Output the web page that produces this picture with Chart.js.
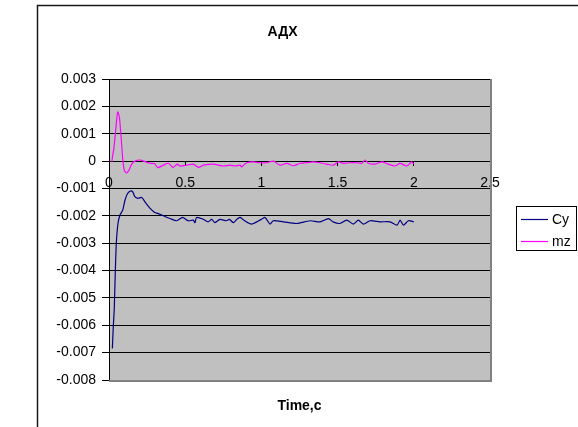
<!DOCTYPE html>
<html>
<head>
<meta charset="utf-8">
<script src="https://cdn.jsdelivr.net/npm/chart.js@4/dist/chart.umd.min.js"></script>
<style>
  html, body { margin: 0; padding: 0; background: #fff; }
  #wrap { width: 578px; height: 427px; }
</style>
</head>
<body>
<div id="wrap"><canvas id="c" width="578" height="427"></canvas></div>
<script>
// Aerodynamic coefficients vs time
const chartTitle = 'АДХ';
const cyTime = [0.022, 0.028, 0.035, 0.041, 0.048, 0.059, 0.072, 0.09, 0.105, 0.12,
  0.138, 0.155, 0.17, 0.19, 0.215, 0.236, 0.27, 0.30, 0.32, 0.356,
  0.40, 0.444, 0.483, 0.52, 0.553, 0.564, 0.575, 0.62, 0.65, 0.674,
  0.695, 0.728, 0.77, 0.79, 0.816, 0.838, 0.86, 0.89, 0.936, 1.0,
  1.024, 1.056, 1.078, 1.144, 1.23, 1.32, 1.385, 1.44, 1.47, 1.516,
  1.56, 1.603, 1.636, 1.669, 1.713, 1.778, 1.844, 1.89, 1.91, 1.932,
  1.965, 2.0];
const cyValues = [-0.00685, -0.00606, -0.00533, -0.0041, -0.0030, -0.00228, -0.00197, -0.00179, -0.00143, -0.0012,
  -0.0011, -0.00112, -0.0013, -0.00136, -0.00133, -0.00149, -0.00173, -0.00188, -0.00191, -0.0020,
  -0.0021, -0.00218, -0.00206, -0.00218, -0.00216, -0.00225, -0.00206, -0.00213, -0.00222, -0.00213,
  -0.00225, -0.00213, -0.00218, -0.00213, -0.00225, -0.00213, -0.00206, -0.00218, -0.0023, -0.00213,
  -0.00206, -0.0023, -0.00218, -0.00222, -0.00228, -0.00218, -0.00222, -0.0021, -0.00222, -0.00228,
  -0.00216, -0.0023, -0.00216, -0.0023, -0.00218, -0.00222, -0.00222, -0.00234, -0.00216, -0.00234,
  -0.00218, -0.00222];

const mzTime = [0.018, 0.033, 0.046, 0.057, 0.068, 0.079, 0.09, 0.1, 0.116, 0.131,
  0.149, 0.17, 0.203, 0.236, 0.27, 0.30, 0.32, 0.356, 0.39, 0.42,
  0.448, 0.465, 0.51, 0.553, 0.586, 0.62, 0.684, 0.75, 0.794, 0.827,
  0.86, 0.87, 0.903, 0.947, 0.99, 1.034, 1.08, 1.122, 1.166, 1.21,
  1.254, 1.297, 1.34, 1.385, 1.428, 1.472, 1.505, 1.538, 1.581, 1.625,
  1.658, 1.68, 1.702, 1.745, 1.79, 1.832, 1.876, 1.91, 1.953, 1.986,
  2.0];
const mzValues = [-0.00003, 0.00052, 0.00125, 0.0018, 0.00162, 0.00089, 0.0001, -0.00033, -0.00043, -0.00033,
  -0.00011, 0, 0.00004, -0.00002, -0.00008, -0.0001, -0.00024, -0.00015, -0.00008, -0.00023,
  -0.00011, -0.00018, -0.00015, -0.00011, -0.00023, -0.00015, -0.00011, -0.00018, -0.00015, -0.00018,
  -0.00015, -0.00021, -0.00006, -0.00003, -0.00006, -0.00006, 0, -0.00015, -0.00008, -0.00017,
  -0.00008, -0.00006, -0.00003, -0.00006, -0.00011, -0.00015, -0.00003, -0.00008, -0.00006, -0.00006,
  -0.00008, 0.00004, -0.00008, -0.00011, -0.00003, -0.00011, -0.00018, -0.00008, -0.00018, -0.00003,
  -0.00011];

const xTicks = [0, 0.5, 1, 1.5, 2, 2.5];
const yTicks = [0.003, 0.002, 0.001, 0, -0.001, -0.002, -0.003, -0.004, -0.005, -0.006, -0.007, -0.008];

const FONT = '"Liberation Sans", Arial, sans-serif';

const toPoints = (xs, ys) => xs.map((t, i) => ({ x: t, y: ys[i] }));

// Page background, outer chart frame, title, grey plot area and legend
const framePlugin = {
  id: 'frame',
  beforeDraw(chart) {
    const { ctx, chartArea: a } = chart;
    ctx.save();
    ctx.fillStyle = '#ffffff';
    ctx.fillRect(0, 0, chart.width, chart.height);
    ctx.strokeStyle = '#1a1a1a';
    ctx.lineWidth = 1.5;
    ctx.strokeRect(37.5, 5.5, 700, 600);
    ctx.fillStyle = '#c0c0c0';
    ctx.fillRect(a.left, a.top, a.right - a.left, a.bottom - a.top);

    ctx.fillStyle = '#000000';
    ctx.font = 'bold 14px ' + FONT;
    ctx.textAlign = 'center';
    ctx.textBaseline = 'middle';
    ctx.fillText(chartTitle, 282.5, 32);
    ctx.restore();
  },
  afterDraw(chart) {
    const { ctx, chartArea: a } = chart;
    ctx.save();
    // plot area edge on the right and bottom
    ctx.strokeStyle = '#808080';
    ctx.lineWidth = 2;
    ctx.beginPath();
    ctx.moveTo(a.right + 1, a.top);
    ctx.lineTo(a.right + 1, a.bottom + 1);
    ctx.lineTo(a.left, a.bottom + 1);
    ctx.stroke();

    // legend box
    const bx = 516.5, by = 206.5, bw = 60, bh = 44;
    ctx.fillStyle = '#ffffff';
    ctx.fillRect(bx, by, bw, bh);
    ctx.strokeStyle = '#000000';
    ctx.lineWidth = 1;
    ctx.strokeRect(bx, by, bw, bh);
    ctx.font = '14px ' + FONT;
    ctx.textBaseline = 'middle';
    ctx.textAlign = 'left';
    chart.data.datasets.forEach((ds, i) => {
      const y = 219.5 + i * 22;
      ctx.strokeStyle = ds.borderColor;
      ctx.lineWidth = 1.2;
      ctx.beginPath();
      ctx.moveTo(521, y);
      ctx.lineTo(548, y);
      ctx.stroke();
      ctx.fillStyle = '#000000';
      ctx.fillText(ds.label, 552, y + 0.5);
    });
    ctx.restore();
  }
};

new Chart(document.getElementById('c'), {
  type: 'line',
  data: {
    datasets: [
      {
        label: 'Cy',
        data: toPoints(cyTime, cyValues),
        borderColor: '#000080',
        borderWidth: 1.2,
        pointRadius: 0,
        tension: 0.25,
        fill: false
      },
      {
        label: 'mz',
        data: toPoints(mzTime, mzValues),
        borderColor: '#ff00ff',
        borderWidth: 1.2,
        pointRadius: 0,
        tension: 0.25,
        fill: false
      }
    ]
  },
  options: {
    responsive: false,
    animation: false,
    devicePixelRatio: 1,
    layout: { padding: { left: 45, right: 88, top: 79, bottom: 0 } },
    plugins: {
      legend: { display: false },
      tooltip: { enabled: false },
      title: { display: false }
    },
    scales: {
      x: {
        type: 'linear',
        min: 0,
        max: 2.5,
        position: { y: 0 },
        afterBuildTicks: s => { s.ticks = xTicks.map(v => ({ value: v })); },
        afterFit: s => { s.height = 0; s.paddingLeft = 0; s.paddingRight = 0; },
        grid: { display: true, drawOnChartArea: false, drawTicks: true, tickLength: 4, color: '#000' },
        border: { display: true, color: '#000', width: 1 },
        ticks: {
          color: '#000',
          font: { family: FONT, size: 14 },
          padding: 10,
          maxRotation: 0,
          autoSkip: false,
          callback: v => String(v)
        }
      },
      x2: {
        type: 'linear',
        position: 'bottom',
        min: 0,
        max: 2.5,
        grid: { display: false, drawTicks: false },
        border: { display: false },
        ticks: { display: false },
        title: {
          display: true,
          text: 'Time,c',
          color: '#000',
          font: { family: FONT, size: 14, weight: 'bold' },
          padding: { top: 17.6, bottom: 12.6 }
        }
      },
      y: {
        type: 'linear',
        min: -0.008,
        max: 0.003,
        afterBuildTicks: s => { s.ticks = yTicks.map(v => ({ value: v })); },
        afterFit: s => { s.width = 64; s.paddingTop = 0; s.paddingBottom = 0; },
        grid: { color: '#000', lineWidth: 1, drawTicks: true, tickLength: 7 },
        border: { display: true, color: '#000', width: 1 },
        ticks: {
          color: '#000',
          font: { family: FONT, size: 14 },
          padding: 6,
          callback: v => (Math.abs(v) < 1e-12 ? '0' : v.toFixed(3))
        }
      }
    }
  },
  plugins: [framePlugin]
});
</script>
</body>
</html>
